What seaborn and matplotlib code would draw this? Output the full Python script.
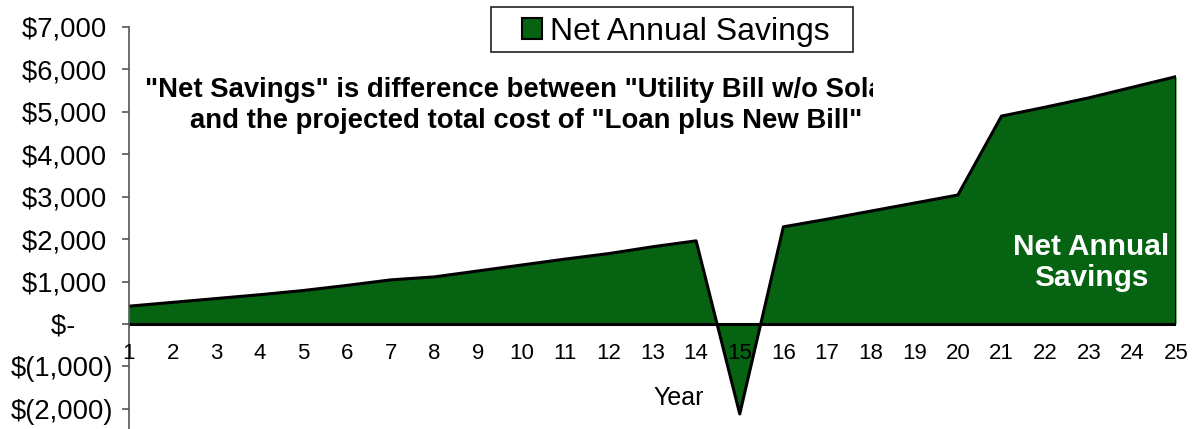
import numpy as np
import pandas as pd
import seaborn as sns
import matplotlib.pyplot as plt
from matplotlib.ticker import FuncFormatter
from matplotlib.transforms import Bbox
from matplotlib.patches import Rectangle

years = list(range(1, 26))
net_savings = [420, 510, 600, 690, 790, 910, 1040, 1110, 1250, 1390,
               1530, 1660, 1820, 1960, -2120, 2290, 2470, 2660, 2850, 3040,
               4900, 5110, 5330, 5580, 5830]
y_ticks = [-2000, -1000, 0, 1000, 2000, 3000, 4000, 5000, 6000, 7000]

df = pd.DataFrame({'Year': years, 'Net Annual Savings': net_savings})

sns.set_style("white")
plt.rcParams['font.family'] = ['Liberation Sans', 'DejaVu Sans']
plt.rcParams['text.color'] = 'black'
plt.rcParams['xtick.color'] = 'black'
plt.rcParams['ytick.color'] = 'black'

green = '#056311'

fig = plt.figure(figsize=(12.03, 4.29), dpi=100)
ax = fig.add_axes([129 / 1203, 0, (1176 - 129) / 1203, 1 - 27 / 429])
ax.set_axisbelow(False)

ax.fill_between(df['Year'], df['Net Annual Savings'], 0, color=green,
                linewidth=0, label='Net Annual Savings')
sns.lineplot(data=df, x='Year', y='Net Annual Savings', ax=ax,
             color='black', linewidth=2.2, legend=False)
ax.axhline(0, color='black', linewidth=2.2)
ax.plot([25, 25], [0, net_savings[-1]], color='black', linewidth=2.2)

ax.set_xlim(1, 25)
ax.set_ylim(-2475, 7000)
ax.set_yticks(y_ticks)


def money(v, pos):
    # excel accounting style, positives padded to line up with the ")"
    if v == 0:
        return '$-     '
    if v < 0:
        return '$({:,.0f})'.format(-v)
    return '${:,.0f} '.format(v)


ax.yaxis.set_major_formatter(FuncFormatter(money))
ax.set_xticks(years)
ax.set_xticklabels([str(y) for y in years])

for s in ['top', 'right']:
    ax.spines[s].set_visible(False)
ax.spines['bottom'].set_position(('data', 0))
ax.spines['bottom'].set_visible(False)
ax.spines['left'].set_color('#555555')
ax.spines['left'].set_linewidth(1.2)

ax.tick_params(axis='y', which='both', left=True, length=5, width=1.2,
               color='#555555', labelcolor='black', labelsize=19.7, pad=6)
ax.tick_params(axis='x', length=0, labelsize=16, labelcolor='black', pad=14)
ax.set_xlabel('')
ax.set_ylabel('')

ax.text(13.6, -1750, 'Year', ha='center', va='center', fontsize=18)

ax.text(23.05, 1450, 'Net Annual\nSavings', ha='center', va='center',
        fontsize=21.4, fontweight='bold', color='white', linespacing=1.1)

note = ax.text(10.1, 5150,
               '"Net Savings" is difference between "Utility Bill w/o Solar"\n'
               'and the projected total cost of "Loan plus New Bill"',
               ha='center', va='center', fontsize=19.8, fontweight='bold',
               linespacing=1.22)
note.set_clip_box(Bbox([[0, 0], [873, 429]]))
note.set_clip_on(True)

# legend box drawn by hand, the excel one has uneven padding
fig.patches.append(Rectangle((491 / 1203, 1 - 52 / 429), 362 / 1203, 45 / 429,
                             transform=fig.transFigure, facecolor='white',
                             edgecolor='#222222', linewidth=1.2))
leg = fig.legend(loc='center left', bbox_to_anchor=(522 / 1203, 1 - 32 / 429),
                 fontsize=23, frameon=False, handlelength=0.62,
                 handleheight=0.62, handletextpad=0.25, borderpad=0,
                 borderaxespad=0)
leg.legend_handles[0].set_edgecolor('black')
leg.legend_handles[0].set_linewidth(1.5)

fig.savefig('out.png', dpi=100)
